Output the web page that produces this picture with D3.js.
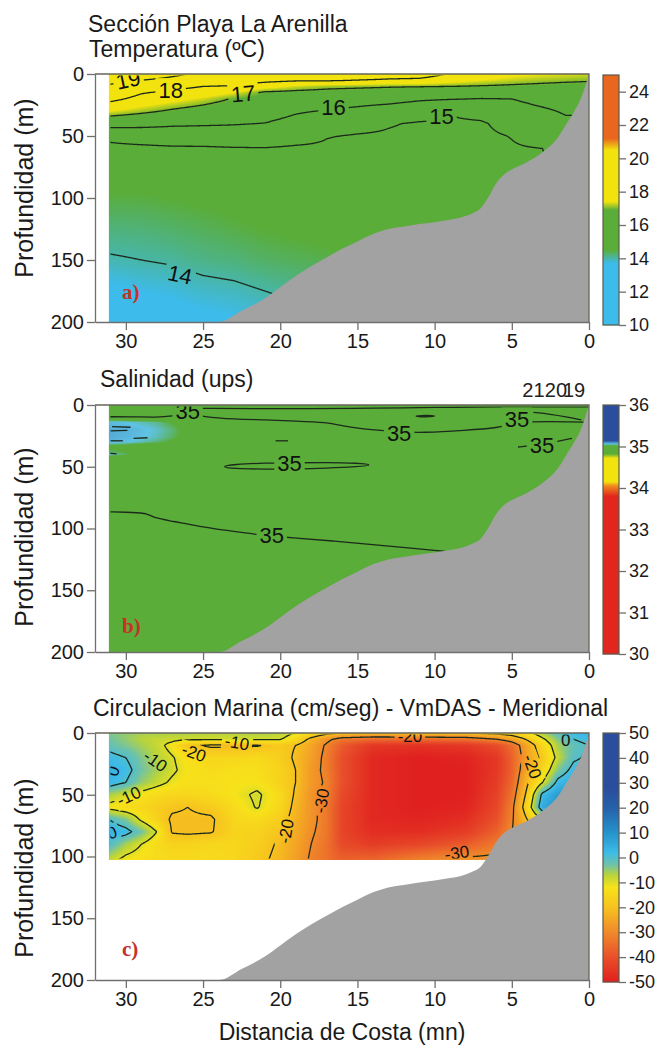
<!DOCTYPE html>
<html lang="es">
<head>
  <meta charset="utf-8">
  <title>Sección Playa La Arenilla</title>
  <script src="https://d3js.org/d3.v7.min.js"></script>
  <style>
    body { margin: 0; background: #fff; }
    svg { display: block; font-family: "Liberation Sans", Arial, sans-serif; }
    .axis .domain, .axis line { stroke: #6f6f6f; stroke-width: 1.3; }
    .axis text { font-size: 20px; fill: #1a1a1a; font-family: "Liberation Sans", Arial, sans-serif; }
    .cbar text { font-size: 18px; }
    .frame { fill: none; stroke: #66665a; stroke-width: 1.3; }
    .iso { fill: none; stroke: #1c2a1c; stroke-width: 1.3; }
    .isolabel { fill: #111; text-anchor: middle; dominant-baseline: central; }
    .title { font-size: 23px; fill: #1a1a1a; }
    .ytitle { font-size: 25px; fill: #1a1a1a; text-anchor: middle; }
    .tag { font-family: "Liberation Serif", serif; font-weight: bold; font-size: 21px; fill: #c4322a; }
    .bottom { fill: #a2a2a2; }
  </style>
</head>
<body>
<svg id="chart" width="664" height="1047"></svg>
<script>
// ---------- datos ----------
// perfil del fondo (distancia mn, profundidad m)
const bathyDist  = [31.1, 24, 22.5, 21, 20, 19, 18, 17, 16, 15, 14, 13, 12, 11, 10, 9, 8, 7.5, 7, 6.5, 6, 5.5, 5, 4, 3, 2, 1.5, 1, 0.5, 0.25, 0];
const bathyDepth = [200, 200, 191, 181, 172, 163, 155, 148, 141, 135, 129, 125, 123, 121, 119.5, 117.5, 114.5, 112, 108, 99, 88, 81, 77, 71, 63, 51, 41, 31, 19, 10, 0];

const distTicks = [30, 25, 20, 15, 10, 5, 0];
const depthTicks = [0, 50, 100, 150, 200];

// a) temperatura (ºC)
const tempDist  = [31.1, 29, 27, 25, 23, 21, 19, 17, 15, 13, 11, 9, 7, 5, 3, 1.5, 0];
const tempDepth = [0, 5, 10, 15, 20, 30, 40, 50, 60, 80, 100, 125, 150, 175, 200];
const tempGrid = [
  [19.9, 19.6, 19.2, 18.8, 18.7, 18.6, 18.55, 18.5, 18.5, 18.4, 18.35, 17.95, 17.7, 17.5, 17.4, 17.35, 17.3],
  [19.4, 19.0, 18.75, 18.4, 18.35, 18.2, 18.1, 18.1, 18.0, 17.9, 17.85, 17.6, 17.4, 17.25, 17.15, 17.1, 17.05],
  [18.8, 18.5, 18.2, 18.0, 17.95, 17.6, 17.3, 17.15, 17.1, 17.05, 17.03, 17.0, 16.95, 16.9, 16.85, 16.8, 16.8],
  [18.5, 18.05, 17.85, 17.7, 17.4, 16.9, 16.85, 16.8, 16.75, 16.7, 16.55, 16.45, 16.4, 16.45, 16.6, 16.6, 16.6],
  [18.2, 17.8, 17.55, 17.3, 16.95, 16.75, 16.6, 16.45, 16.35, 16.3, 16.12, 16.05, 15.98, 16.0, 16.3, 16.45, 16.45],
  [17.4, 17.15, 16.9, 16.7, 16.5, 16.35, 16.08, 15.95, 15.8, 15.6, 15.4, 15.05, 15.25, 15.6, 15.85, 16.1, 16.1],
  [16.4, 16.3, 16.15, 16.1, 16.05, 15.98, 15.75, 15.5, 15.25, 15.05, 14.93, 14.9, 14.92, 15.25, 15.5, 15.8, 15.8],
  [15.15, 15.35, 15.45, 15.5, 15.55, 15.5, 15.3, 15.03, 14.95, 14.92, 14.88, 14.88, 14.88, 15.02, 15.25, 15.5, 15.5],
  [14.85, 14.85, 14.9, 14.9, 14.95, 14.97, 14.9, 14.9, 14.85, 14.85, 14.85, 14.87, 14.87, 14.95, 15.0, 15.2, 15.2],
  [14.7, 14.72, 14.74, 14.78, 14.83, 14.88, 14.85, 14.85, 14.82, 14.82, 14.82, 14.85, 14.85, 14.9, 14.95, 15.0, 15.0],
  [14.45, 14.45, 14.5, 14.55, 14.6, 14.65, 14.7, 14.75, 14.78, 14.8, 14.8, 14.82, 14.82, 14.85, 14.9, 14.9, 14.9],
  [14.2, 14.22, 14.28, 14.35, 14.42, 14.5, 14.55, 14.62, 14.68, 14.72, 14.78, 14.8, 14.8, 14.8, 14.8, 14.8, 14.8],
  [13.95, 14.0, 14.05, 14.15, 14.2, 14.3, 14.35, 14.4, 14.5, 14.6, 14.7, 14.7, 14.7, 14.7, 14.7, 14.7, 14.7],
  [13.6, 13.7, 13.75, 13.85, 13.9, 14.0, 14.1, 14.15, 14.3, 14.4, 14.5, 14.5, 14.5, 14.5, 14.5, 14.5, 14.5],
  [13.4, 13.5, 13.55, 13.6, 13.65, 13.7, 13.8, 13.9, 14.0, 14.1, 14.2, 14.2, 14.2, 14.2, 14.2, 14.2, 14.2]
];
const tempLevels = [14, 15, 16, 17, 18, 19];
const tempLabelText  = ["19", "18", "17", "16", "15", "14"];
const tempLabelDist  = [29.85, 27.1, 22.4, 16.55, 9.55, 26.5];
const tempLabelDepth = [4.8, 13.4, 16, 26.9, 34.4, 162];
const tempLabelAngle = [-12, 0, -5, 0, 0, 12];
const tempTicks = [10, 12, 14, 16, 18, 20, 22, 24];

// b) salinidad (ups)
const salDist  = [31.1, 30, 29, 28, 27, 26, 25, 0];
const salDepth = [0, 10, 14, 20, 26, 30, 34, 37, 40, 43, 48, 200];
const salGrid = [
  [34.95, 34.95, 34.95, 34.95, 34.95, 34.95, 34.95, 34.95],
  [34.97, 34.96, 34.95, 34.95, 34.95, 34.95, 34.95, 34.95],
  [35.065, 35.06, 35.05, 35.04, 35.02, 35.0, 34.97, 34.95],
  [35.075, 35.072, 35.065, 35.055, 35.035, 35.01, 34.97, 34.95],
  [35.075, 35.07, 35.062, 35.05, 35.03, 35.005, 34.97, 34.95],
  [35.07, 35.062, 35.05, 35.035, 35.015, 34.99, 34.96, 34.95],
  [35.0, 34.99, 34.97, 34.95, 34.95, 34.95, 34.95, 34.95],
  [35.03, 35.01, 34.98, 34.95, 34.95, 34.95, 34.95, 34.95],
  [35.05, 35.03, 34.99, 34.96, 34.95, 34.95, 34.95, 34.95],
  [35.0, 34.98, 34.96, 34.95, 34.95, 34.95, 34.95, 34.95],
  [34.95, 34.95, 34.95, 34.95, 34.95, 34.95, 34.95, 34.95],
  [34.95, 34.95, 34.95, 34.95, 34.95, 34.95, 34.95, 34.95]
];
// isolíneas de 35 trazadas sobre la figura
const salIso = [
  [[31.1, 9.5], [29.5, 9.5], [28, 10], [27, 9], [26, 6.5], [25, 9.5], [23, 11.5], [21, 12], [19, 13], [17, 14], [16, 17], [14.5, 19.5], [13.6, 20.5], [12, 22], [10.8, 22.5], [8, 20.5], [5.9, 18.6], [4.6, 14.5], [3.7, 13.5], [2.5, 13.5], [1.5, 13.5], [0.2, 14]],
  [[26.6, 0], [26, 3], [24.7, 2.5], [22, 3], [18, 3], [14, 2.5], [10, 2], [6, 1.5], [2, 1.5], [0, 1.5]],
  [[20.3, 29], [19.5, 29]],
  [[3.6, 6], [2.5, 7.5], [1.5, 9.5], [0.5, 12]],
  [[4.6, 34], [3.8, 33], [2.2, 30], [1.1, 27]],
  [[9.3, 118.5], [11.5, 116], [14, 113], [16.6, 110], [19.2, 107.7], [21.5, 105], [23.5, 101.5], [25.2, 98.5], [27, 94], [28.2, 91.5], [28.6, 87.7], [29.5, 87], [31.1, 86.5]],
  [[30.9, 17.5], [29.7, 18]],
  [[31, 21], [29.9, 20.5]],
  [[29.5, 27], [28.6, 26.5]],
  [[31, 29], [30.2, 29]],
  [[31.1, 39], [30.6, 39.5]]
];
const salLoops = [
  [[23.9, 50], [23, 48], [21, 47], [19, 46.8], [17, 46.5], [15, 47], [13.9, 48.6], [15, 50], [17, 51.2], [19, 51.8], [21, 52], [23, 51.5]],
  [[11.5, 9], [10.6, 8.2], [9.7, 8.8], [10.6, 9.8]]
];
const salLabelText  = ["35", "35", "35", "35", "35", "35"];
const salLabelDist  = [26.0, 19.4, 20.55, 12.3, 4.66, 3.04];
const salLabelDepth = [5.5, 47.2, 105.3, 23, 12.1, 32.4];
const salLabelAngle = [0, 0, 0, 0, 0, 0];
const salTicks = [30, 31, 32, 33, 34, 35, 36];
const stationName = ["21", "20", "19"];
const stationDist = [3.6, 2.14, 0.97];

// c) velocidad meridional (cm/seg)
const velDist  = [31.1, 30, 29, 28, 27, 26, 24.5, 23, 21.5, 20, 19, 18, 17, 16, 14, 11, 8, 6, 5, 4, 3, 2, 1, 0];
const velDepth = [0, 5, 10, 20, 30, 40, 50, 60, 70, 80, 90, 103];
const velGrid = [
  [-4, -5, -6, -6, -6, -6, -7, -7, -6, -7, -10.5, -14, -18, -20, -21, -20, -20, -18, -16, -12, -6, -1, 2, 3],
  [-3, -5, -7, -8, -8.5, -9, -9, -9, -9, -9.5, -14, -22, -28, -33, -35, -35, -34, -30, -26, -19, -11, -4, 0, 2],
  [-2, -4, -6, -8, -12, -19, -21, -21, -20.5, -18, -20, -25, -31, -38, -45, -46, -45, -41, -35, -25, -15, -6, -2, 0],
  [2, 0, -4, -7, -9.5, -13, -15, -15, -14, -17, -21, -26, -32, -40, -48, -50, -49, -45, -37, -26, -18, -8, -1, 1],
  [4, 2, -3, -6, -9, -12, -14, -13, -13, -16, -20, -27, -32, -40, -48, -50, -50, -45, -37, -24, -15, -4, 2, 3],
  [3, 0, -5, -8, -11, -13, -13, -12.5, -12, -16, -20, -27, -31, -40, -48, -50, -50, -44, -36, -21, -10, 2, 5, 5],
  [-6, -9, -12, -14, -15, -15, -14, -12, -9, -14, -21, -28, -32, -41, -48, -50, -50, -43, -34, -18, 2, 8, 8, 8],
  [-12, -14, -15, -17, -19, -20, -18, -14, -9.5, -15, -22, -28, -33, -42, -48, -50, -49, -42, -32, -15, 5, 10, 10, 10],
  [0, -4, -11, -16, -21, -21, -21, -15, -14, -17, -23, -28, -33, -42, -48, -49, -47, -40, -31, -20, -10, 0, 0, 0],
  [4, 2, -3, -10, -20.5, -21, -20.5, -16, -16, -19, -24, -29, -33, -42, -47, -47, -44, -37, -30, -25, -20, -10, 0, 0],
  [0, -6, -10, -14, -16, -16, -15, -15, -17, -21, -25, -30, -34, -41, -44, -42, -38, -33, -30, -28, -25, -20, -15, -10],
  [-8, -12, -13, -14, -14, -14, -14, -15, -18, -22, -26, -31, -34, -37, -36, -31, -28, -28, -28, -28, -25, -20, -15, -10]
];
const velLevels = [-30, -20, -10, 0];
const velLabelText  = ["-10", "-20", "-10", "0", "-10", "0", "-20", "-30", "-20", "0", "-30", "-20"];
const velLabelDist  = [22.8, 25.6, 28.1, 30.8, 29.8, 30.9, 19.6, 17.3, 3.7, 1.5, 8.55, 11.6];
const velLabelDepth = [8.1, 16.2, 22.9, 31, 51.3, 81, 79.6, 55, 27.3, 5.7, 97.4, 2.5];
const velLabelAngle = [10, 20, 35, -70, -25, -20, -80, -80, 70, 0, -8, 0];
const velTicks = [-50, -40, -30, -20, -10, 0, 10, 20, 30, 40, 50];

// ---------- escalas de color ----------
const tempColor = d3.scaleLinear()
  .domain([10, 13.7, 14.5, 16.9, 17.4, 20.5, 21.2, 25])
  .range(["#3dbbea", "#3dbbea", "#5aad38", "#5aad38", "#f2e30f", "#f2e30f", "#e8661e", "#e8661e"]);
const salColor = d3.scaleLinear()
  .domain([30, 33.8, 34.05, 34.15, 34.72, 34.82, 35.02, 35.06, 35.14, 36])
  .range(["#e0261f", "#e0261f", "#f08a1c", "#f2e30f", "#f2e30f", "#5aad38", "#5aad38", "#5fc3e4", "#2b4d9d", "#2b4d9d"]);
const velColor = d3.scaleLinear()
  .domain([-50, -40, -30, -20, -12, -7, -3, 2, 10, 20, 28, 50])
  .range(["#e01f1f", "#e8502a", "#f08a2a", "#f7c21f", "#f7e31a", "#b8d43c", "#6fc2a8", "#3dbbe8", "#2592cc", "#2560aa", "#2b4d9d", "#2b4d9d"]);

// ---------- dibujo ----------
const svg = d3.select("#chart");
const defs = svg.append("defs");
const x = d3.scaleLinear().domain([32, 0]).range([95, 589]);
const bathy = d3.zip(bathyDist, bathyDepth);

function locate(arr, v) {
  for (let i = 0; i < arr.length - 1; i++) {
    const a = arr[i], b = arr[i + 1];
    if ((v - a) * (v - b) <= 0) return [i, (v - a) / (b - a)];
  }
  return Math.abs(v - arr[0]) < Math.abs(v - arr[arr.length - 1]) ? [0, 0] : [arr.length - 2, 1];
}
function sample(grid, xs, ys, px, py) {
  const [i, tx] = locate(xs, px), [j, ty] = locate(ys, py);
  const top = grid[j][i] * (1 - tx) + grid[j][i + 1] * tx;
  const bot = grid[j + 1][i] * (1 - tx) + grid[j + 1][i + 1] * tx;
  return top * (1 - ty) + bot * ty;
}
function makeLabels(text, dist, depth, angle) {
  return text.map((t, i) => ({ text: t, dist: dist[i], depth: depth[i], angle: angle[i] }));
}

function drawPanel(p) {
  const y = d3.scaleLinear().domain([0, 200]).range([p.top, p.bottom]);
  const g = svg.append("g");
  const fx0 = x(p.dist[0]), fx1 = x(p.dist[p.dist.length - 1]);
  const fy0 = y(p.depth[0]), fy1 = y(p.depth[p.depth.length - 1]);
  const w = Math.round(fx1 - fx0), h = Math.round(fy1 - fy0);

  // campo de color
  const [dmin, dmax] = d3.extent(p.color.domain());
  const N = 4096;
  const lut = d3.range(N).map(k => d3.rgb(p.color(dmin + (dmax - dmin) * k / (N - 1))));
  const values = new Float64Array(w * h);
  const canvas = document.createElement("canvas");
  canvas.width = w; canvas.height = h;
  const ctx = canvas.getContext("2d");
  const img = ctx.createImageData(w, h);
  for (let j = 0; j < h; j++) {
    const dep = y.invert(fy0 + j + 0.5);
    for (let i = 0; i < w; i++) {
      const v = sample(p.grid, p.dist, p.depth, x.invert(fx0 + i + 0.5), dep);
      values[j * w + i] = v;
      const c = lut[Math.max(0, Math.min(N - 1, Math.round((v - dmin) / (dmax - dmin) * (N - 1))))];
      const o = 4 * (j * w + i);
      img.data[o] = c.r; img.data[o + 1] = c.g; img.data[o + 2] = c.b; img.data[o + 3] = 255;
    }
  }
  ctx.putImageData(img, 0, 0);
  g.append("image").attr("x", fx0).attr("y", fy0).attr("width", w).attr("height", h)
    .attr("preserveAspectRatio", "none").attr("href", canvas.toDataURL());

  const clipId = "clip-" + p.id, maskId = "mask-" + p.id;
  defs.append("clipPath").attr("id", clipId).append("rect")
    .attr("x", fx0 + 1.5).attr("y", fy0 + 1.5).attr("width", w - 1.5).attr("height", h - 3);

  const lineG = g.append("g").attr("clip-path", `url(#${clipId})`)
    .append("g").attr("mask", `url(#${maskId})`);
  if (p.levels) {
    const contours = d3.contours().size([w, h]).thresholds(p.levels)(values);
    const path = d3.geoPath(d3.geoIdentity().translate([fx0, fy0]));
    lineG.selectAll("path.c").data(contours).join("path").attr("class", "iso c").attr("d", path);
  }
  if (p.lines) {
    const line = d3.line().x(d => x(d[0])).y(d => y(d[1])).curve(d3.curveBasis);
    lineG.selectAll("path.l").data(p.lines).join("path").attr("class", "iso l").attr("d", line);
  }
  if (p.loops) {
    const loop = d3.line().x(d => x(d[0])).y(d => y(d[1])).curve(d3.curveBasisClosed);
    lineG.selectAll("path.o").data(p.loops).join("path").attr("class", "iso o").attr("d", loop);
  }

  // fondo marino
  const area = d3.area().x(d => x(d[0])).y0(y(200)).y1(d => y(d[1])).curve(d3.curveMonotoneX);
  g.append("path").attr("class", "bottom").attr("d", area(bathy));

  // etiquetas de isolíneas
  const labG = g.append("g").attr("clip-path", `url(#${clipId})`);
  const tf = d => `translate(${x(d.dist)},${y(d.depth)}) rotate(${d.angle})`;
  const labs = labG.selectAll("text").data(p.labels).join("text")
    .attr("class", "isolabel").style("font-size", p.labelSize + "px")
    .attr("transform", tf).text(d => d.text);
  const mask = defs.append("mask").attr("id", maskId).attr("maskUnits", "userSpaceOnUse")
    .attr("x", 0).attr("y", 0).attr("width", 664).attr("height", 1047);
  mask.append("rect").attr("width", 664).attr("height", 1047).attr("fill", "#fff");
  labs.each(function (d) {
    const b = this.getBBox();
    mask.append("rect").attr("x", b.x - 3).attr("y", b.y).attr("width", b.width + 6)
      .attr("height", b.height).attr("transform", tf(d)).attr("fill", "#000");
  });

  // ejes y marco
  g.append("g").attr("class", "axis").attr("transform", "translate(95,0)")
    .call(d3.axisLeft(y).tickValues(depthTicks).tickSize(8).tickSizeOuter(0).tickPadding(3));
  g.append("g").attr("class", "axis").attr("transform", `translate(0,${p.bottom})`)
    .call(d3.axisBottom(x).tickValues(distTicks).tickSize(8).tickSizeOuter(0).tickPadding(4));
  g.append("path").attr("class", "frame").attr("d", `M95,${p.top}H589V${p.bottom}`);
  g.append("text").attr("class", "ytitle")
    .attr("transform", `translate(33,${p.yTitle}) rotate(-90)`).text("Profundidad (m)");
  g.append("text").attr("class", "tag").attr("x", 122).attr("y", p.tagY).text(p.tag);

  // barra de color
  const cb = d3.scaleLinear().domain(p.cbDomain).range([p.cbBottom, p.cbTop]);
  const cg = g.append("g").attr("class", "cbar");
  cg.selectAll("rect.px").data(d3.range(p.cbTop, p.cbBottom)).join("rect").attr("class", "px")
    .attr("x", 603).attr("width", 16).attr("y", d => d).attr("height", 1.3)
    .attr("fill", d => p.color(cb.invert(d + 0.5)));
  cg.append("rect").attr("x", 603).attr("y", p.cbTop).attr("width", 16)
    .attr("height", p.cbBottom - p.cbTop).attr("fill", "none").attr("stroke", "#5a5a4a").attr("stroke-width", 1.2);
  cg.append("g").attr("class", "axis").attr("transform", "translate(619,0)")
    .call(d3.axisRight(cb).tickValues(p.cbTicks).tickSize(7).tickPadding(3).tickFormat(d => String(d)))
    .call(s => s.select(".domain").remove());
  return y;
}

drawPanel({
  id: "a", top: 74, bottom: 322, dist: tempDist, depth: tempDepth, grid: tempGrid,
  color: tempColor, levels: tempLevels, labelSize: 22,
  labels: makeLabels(tempLabelText, tempLabelDist, tempLabelDepth, tempLabelAngle),
  yTitle: 188, tag: "a)", tagY: 299,
  cbDomain: [10, 25], cbTop: 75, cbBottom: 325, cbTicks: tempTicks
});
drawPanel({
  id: "b", top: 405, bottom: 652, dist: salDist, depth: salDepth, grid: salGrid,
  color: salColor, lines: salIso, loops: salLoops, labelSize: 22,
  labels: makeLabels(salLabelText, salLabelDist, salLabelDepth, salLabelAngle),
  yTitle: 537, tag: "b)", tagY: 633,
  cbDomain: [30, 36], cbTop: 405, cbBottom: 654, cbTicks: salTicks
});
drawPanel({
  id: "c", top: 733, bottom: 980, dist: velDist, depth: velDepth, grid: velGrid,
  color: velColor, levels: velLevels, labelSize: 17,
  labels: makeLabels(velLabelText, velLabelDist, velLabelDepth, velLabelAngle),
  yTitle: 868, tag: "c)", tagY: 956,
  cbDomain: [-50, 50], cbTop: 733, cbBottom: 982, cbTicks: velTicks
});

// estaciones sobre el panel b (rótulos superpuestos como en el original)
svg.append("g").selectAll("text").data(d3.zip(stationName, stationDist)).join("text")
  .attr("x", d => x(d[1])).attr("y", 397).attr("text-anchor", "middle")
  .style("font-size", "20px").style("fill", "#222").text(d => d[0]);

// títulos
svg.append("text").attr("class", "title").attr("x", 88).attr("y", 32).text("Sección Playa La Arenilla");
svg.append("text").attr("class", "title").attr("x", 89).attr("y", 57).text("Temperatura (ºC)");
svg.append("text").attr("class", "title").attr("x", 100).attr("y", 387).text("Salinidad (ups)");
svg.append("text").attr("class", "title").attr("x", 93).attr("y", 716)
  .text("Circulacion Marina (cm/seg) - VmDAS - Meridional");
svg.append("text").attr("x", 342).attr("y", 1040).attr("text-anchor", "middle")
  .style("font-size", "23px").style("fill", "#1a1a1a").text("Distancia de Costa (mn)");
</script>
</body>
</html>
